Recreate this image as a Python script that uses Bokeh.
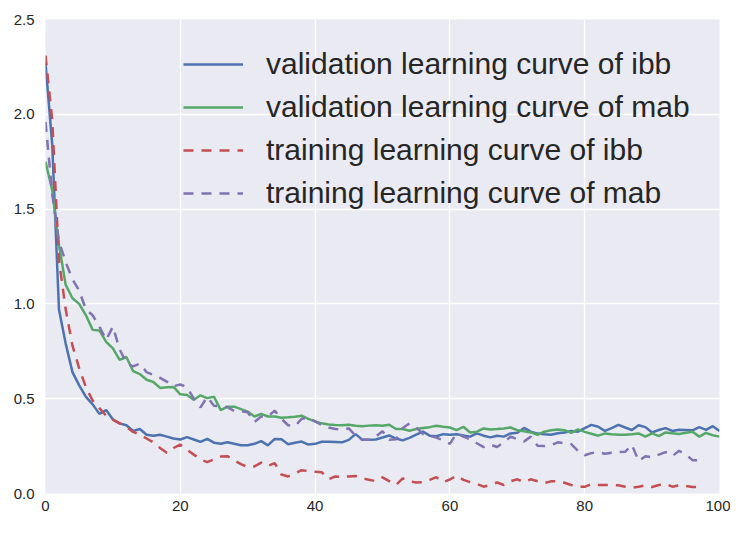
from bokeh.plotting import figure
from bokeh.models import Range1d, FixedTicker, Legend, LegendItem
from bokeh.embed import file_html
from bokeh.resources import INLINE

# ---- data ----
val_ibb = [2.27, 1.84, 0.97, 0.79, 0.64, 0.57, 0.51, 0.47, 0.42, 0.44,
           0.39, 0.37, 0.36, 0.33, 0.34, 0.31, 0.305, 0.31, 0.30, 0.29,
           0.285, 0.297, 0.285, 0.272, 0.288, 0.268, 0.262, 0.27, 0.262, 0.254,
           0.255, 0.262, 0.276, 0.254, 0.288, 0.286, 0.26, 0.268, 0.274, 0.258,
           0.262, 0.273, 0.273, 0.272, 0.27, 0.283, 0.313, 0.284, 0.284, 0.285,
           0.295, 0.306, 0.29, 0.28, 0.293, 0.31, 0.326, 0.305, 0.302, 0.313,
           0.31, 0.312, 0.306, 0.30, 0.317, 0.305, 0.296, 0.305, 0.30, 0.317,
           0.32, 0.346, 0.326, 0.316, 0.312, 0.31, 0.318, 0.322, 0.33, 0.326,
           0.345, 0.362, 0.352, 0.33, 0.345, 0.362, 0.348, 0.335, 0.36, 0.35,
           0.322, 0.335, 0.345, 0.33, 0.336, 0.335, 0.333, 0.35, 0.336, 0.355,
           0.33]
val_mab = [1.75, 1.60, 1.31, 1.10, 1.03, 1.00, 0.94, 0.863, 0.86, 0.80,
           0.765, 0.705, 0.72, 0.645, 0.63, 0.60, 0.588, 0.557, 0.56, 0.562,
           0.523, 0.52, 0.494, 0.518, 0.503, 0.51, 0.44, 0.458, 0.458, 0.445,
           0.432, 0.406, 0.42, 0.406, 0.406, 0.40, 0.402, 0.405, 0.41, 0.394,
           0.38, 0.37, 0.364, 0.361, 0.36, 0.363, 0.357, 0.355, 0.358, 0.36,
           0.357, 0.363, 0.34, 0.34, 0.331, 0.34, 0.345, 0.35, 0.357, 0.352,
           0.348, 0.334, 0.352, 0.322, 0.326, 0.343, 0.338, 0.34, 0.343, 0.348,
           0.334, 0.328, 0.322, 0.309, 0.326, 0.334, 0.338, 0.334, 0.32, 0.338,
           0.325, 0.315, 0.305, 0.317, 0.312, 0.31, 0.31, 0.312, 0.317, 0.30,
           0.317, 0.303, 0.322, 0.318, 0.314, 0.32, 0.326, 0.30, 0.32, 0.307,
           0.30]
train_ibb = [2.31, 1.97, 1.23, 0.97, 0.78, 0.66, 0.56, 0.49, 0.45, 0.41,
             0.39, 0.37, 0.35, 0.325, 0.31, 0.29, 0.27, 0.24, 0.215, 0.24,
             0.258, 0.23, 0.205, 0.18, 0.165, 0.18, 0.195, 0.197, 0.175, 0.155,
             0.14, 0.143, 0.163, 0.145, 0.16, 0.10, 0.09, 0.105, 0.123, 0.118,
             0.115, 0.112, 0.075, 0.09, 0.087, 0.09, 0.092, 0.08, 0.072, 0.065,
             0.085, 0.065, 0.045, 0.08, 0.064, 0.058, 0.06, 0.072, 0.086, 0.06,
             0.074, 0.094, 0.072, 0.06, 0.05, 0.036, 0.045, 0.058, 0.045, 0.065,
             0.075, 0.06, 0.075, 0.065, 0.055, 0.064, 0.064, 0.057, 0.045, 0.036,
             0.035, 0.05, 0.045, 0.045, 0.046, 0.043, 0.036, 0.03, 0.036, 0.043,
             0.034, 0.045, 0.05, 0.036, 0.043, 0.04, 0.034, 0.034]
train_mab = [1.96, 1.58, 1.33, 1.22, 1.13, 1.07, 0.97, 0.94, 0.88, 0.81,
             0.88, 0.76, 0.69, 0.67, 0.685, 0.64, 0.625, 0.61, 0.59, 0.566,
             0.575, 0.56, 0.50, 0.454, 0.51, 0.463, 0.46, 0.455, 0.435, 0.434,
             0.428, 0.377, 0.406, 0.406, 0.437, 0.394, 0.36, 0.355, 0.394, 0.40,
             0.38, 0.36, 0.348, 0.34, 0.338, 0.343, 0.305, 0.283, 0.283, 0.30,
             0.328, 0.283, 0.286, 0.345, 0.369, 0.348, 0.314, 0.305, 0.295, 0.28,
             0.262, 0.318, 0.30, 0.286, 0.265, 0.245, 0.258, 0.245, 0.27, 0.30,
             0.286, 0.274, 0.30, 0.252, 0.25, 0.255, 0.27, 0.265, 0.26, 0.225,
             0.202, 0.213, 0.218, 0.21, 0.215, 0.218, 0.22, 0.257, 0.171, 0.197,
             0.19, 0.205, 0.218, 0.197, 0.225, 0.206, 0.176, 0.176]
epochs_val = list(range(len(val_ibb)))
epochs_train = list(range(len(train_ibb)))

labels = ["validation learning curve of ibb", "validation learning curve of mab",
          "training learning curve of ibb", "training learning curve of mab"]
x_ticks = [0, 20, 40, 60, 80, 100]
y_ticks = [0.0, 0.5, 1.0, 1.5, 2.0, 2.5]

FONT = "Liberation Sans"
TXT = "#262626"

p = figure(width=730, height=517, output_backend="svg", toolbar_location=None,
           x_range=Range1d(0, 100), y_range=Range1d(0, 2.5),
           min_border_left=45, min_border_right=11, min_border_top=19, min_border_bottom=24)
p.background_fill_color = "#EAEAF2"
p.border_fill_color = "white"
p.outline_line_color = None

for ax in (p.xaxis[0], p.yaxis[0]):
    ax.axis_line_color = None
    ax.major_tick_line_color = None
    ax.minor_tick_line_color = None
    ax.major_tick_out = 0
    ax.major_tick_in = 0
    ax.major_label_text_font = FONT
    ax.major_label_text_font_size = "15px"
    ax.major_label_text_color = TXT

p.xaxis[0].ticker = FixedTicker(ticks=x_ticks)
p.yaxis[0].ticker = FixedTicker(ticks=y_ticks)
p.xaxis[0].major_label_overrides = {t: str(t) for t in x_ticks}
p.yaxis[0].major_label_overrides = {t: "%.1f" % t for t in y_ticks}
p.xaxis[0].major_label_standoff = 7
p.yaxis[0].major_label_standoff = 11

p.xgrid.grid_line_color = "white"
p.ygrid.grid_line_color = "white"
p.xgrid.grid_line_width = 1.3
p.ygrid.grid_line_width = 1.3
p.xgrid.ticker = FixedTicker(ticks=x_ticks)
p.ygrid.ticker = FixedTicker(ticks=y_ticks)

r1 = p.line(epochs_val, val_ibb, line_color="#4C72B0", line_width=2.5)
r2 = p.line(epochs_val, val_mab, line_color="#55A868", line_width=2.5)
r3 = p.line(epochs_train, train_ibb, line_color="#C44E52", line_width=2.5, line_dash="10 8")
r4 = p.line(epochs_train, train_mab, line_color="#8172B2", line_width=2.5, line_dash="10 8")

legend = Legend(items=[LegendItem(label=labels[0], renderers=[r1]),
                       LegendItem(label=labels[1], renderers=[r2]),
                       LegendItem(label=labels[2], renderers=[r3]),
                       LegendItem(label=labels[3], renderers=[r4])],
                location=(138, 283))
legend.background_fill_alpha = 0
legend.border_line_color = None
legend.label_text_font = FONT
legend.label_text_font_size = "30px"
legend.label_text_color = TXT
legend.glyph_width = 60
legend.label_standoff = 23
legend.spacing = 9
legend.padding = 0
legend.margin = 0
p.add_layout(legend, "center")

open("out.html", "w").write(file_html(p, INLINE))
